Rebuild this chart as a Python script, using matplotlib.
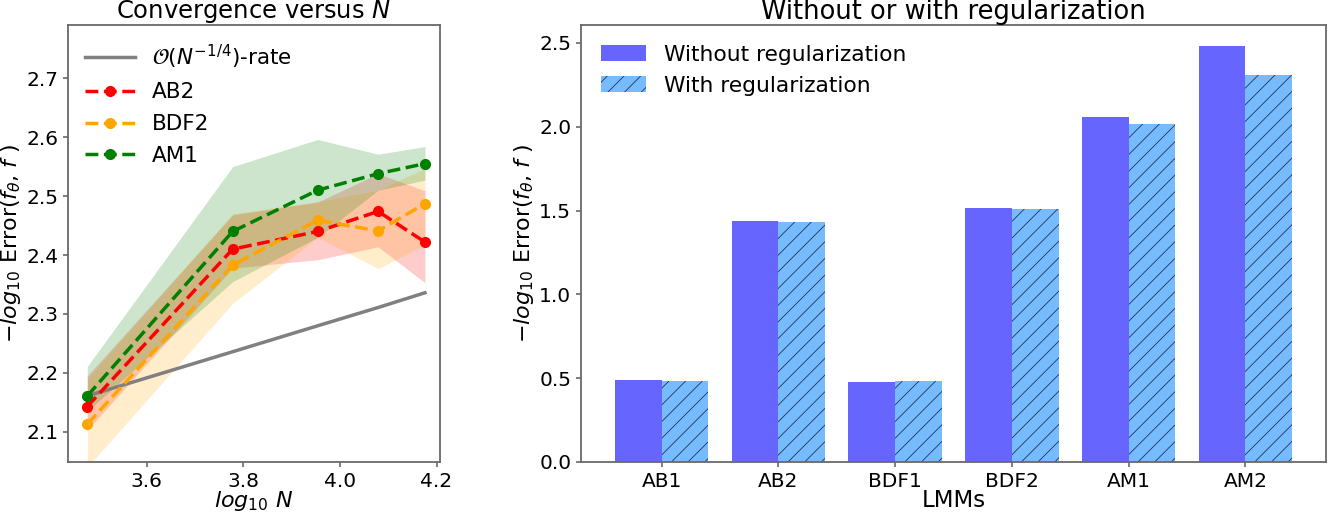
import matplotlib
matplotlib.use("Agg")
import matplotlib.pyplot as plt
import numpy as np

# ---- data: left panel ----
log_n = [3.477, 3.778, 3.954, 4.079, 4.176]
rate_line = [2.161, 2.236, 2.280, 2.311, 2.336]

am1_mean = [2.161, 2.440, 2.510, 2.538, 2.555]
am1_upper = [2.211, 2.550, 2.596, 2.571, 2.584]
am1_lower = [2.135, 2.355, 2.430, 2.510, 2.527]

ab2_mean = [2.143, 2.410, 2.440, 2.474, 2.422]
ab2_upper = [2.195, 2.468, 2.490, 2.538, 2.509]
ab2_lower = [2.103, 2.378, 2.392, 2.414, 2.353]

bdf2_mean = [2.113, 2.383, 2.459, 2.441, 2.487]
bdf2_upper = [2.190, 2.470, 2.490, 2.510, 2.547]
bdf2_lower = [2.040, 2.318, 2.430, 2.377, 2.417]

# ---- data: right panel ----
methods = ["AB1", "AB2", "BDF1", "BDF2", "AM1", "AM2"]
without_reg = [0.488, 1.440, 0.476, 1.517, 2.058, 2.482]
with_reg = [0.482, 1.434, 0.482, 1.510, 2.017, 2.308]

plt.rcParams['axes.edgecolor'] = 'dimgray'
plt.rcParams['xtick.color'] = 'dimgray'
plt.rcParams['ytick.color'] = 'dimgray'
plt.rcParams['xtick.labelcolor'] = 'black'
plt.rcParams['ytick.labelcolor'] = 'black'
plt.rcParams['hatch.linewidth'] = 0.6
plt.rcParams['hatch.color'] = '#223355'

fig = plt.figure(figsize=(13.4, 5.14), dpi=100)
ax1 = fig.add_axes([0.0507, 0.1012, 0.2776, 0.850])
ax2 = fig.add_axes([0.4336, 0.1012, 0.556, 0.850])

# left panel
ax1.plot(log_n, rate_line, color='gray', lw=2.5, label=r'$\mathcal{O}(N^{-1/4})$-rate')
series = [
    ("AB2", ab2_mean, ab2_lower, ab2_upper, 'red'),
    ("BDF2", bdf2_mean, bdf2_lower, bdf2_upper, 'orange'),
    ("AM1", am1_mean, am1_lower, am1_upper, 'green'),
]
for name, m, lo, hi, c in series:
    ax1.plot(log_n, m, '--o', color=c, lw=2.5, ms=7, label=name)
    ax1.fill_between(log_n, lo, hi, color=c, alpha=0.2, lw=0)

ax1.set_xlim(3.437, 4.207)
ax1.set_ylim(2.049, 2.79)
ax1.set_xticks([3.6, 3.8, 4.0, 4.2])
ax1.set_yticks([2.1, 2.2, 2.3, 2.4, 2.5, 2.6, 2.7])
ax1.tick_params(labelsize=14.5, width=1.2)
ax1.set_xlabel(r'$log_{10}\ N$', fontsize=16, labelpad=-1)
ax1.set_ylabel(r'$-log_{10}$ Error($f_{\theta}$, $f$ )', fontsize=16, labelpad=2)
ax1.set_title(r'Convergence versus $N$', fontsize=17.5, pad=3)
ax1.legend(loc='upper left', fontsize=15.5, frameon=False, handlelength=2.3,
           handletextpad=0.8, borderaxespad=0.4, labelspacing=0.55)
for s in ax1.spines.values():
    s.set_linewidth(1.3)

# right panel
x = np.arange(len(methods))
w = 0.4
ax2.bar(x - w / 2, without_reg, width=w, color='#6666ff', label='Without regularization')
ax2.bar(x + w / 2, with_reg, width=w, color='#77bbff', hatch='//', lw=0,
        label='With regularization')
ax2.set_xticks(x)
ax2.set_xticklabels(methods)
ax2.set_yticks([0.0, 0.5, 1.0, 1.5, 2.0, 2.5])
ax2.tick_params(labelsize=14.5, width=1.2)
ax2.set_xlabel('LMMs', fontsize=16.5, labelpad=-1)
ax2.set_ylabel(r'$-log_{10}$ Error($f_{\theta}$, $f$ )', fontsize=16, labelpad=2)
ax2.set_title('Without or with regularization', fontsize=18.5, pad=3)
ax2.legend(loc='upper left', fontsize=15.7, frameon=False, handlelength=2.1,
           handletextpad=0.8)
for s in ax2.spines.values():
    s.set_linewidth(1.3)

fig.savefig('out.png', dpi=100)
